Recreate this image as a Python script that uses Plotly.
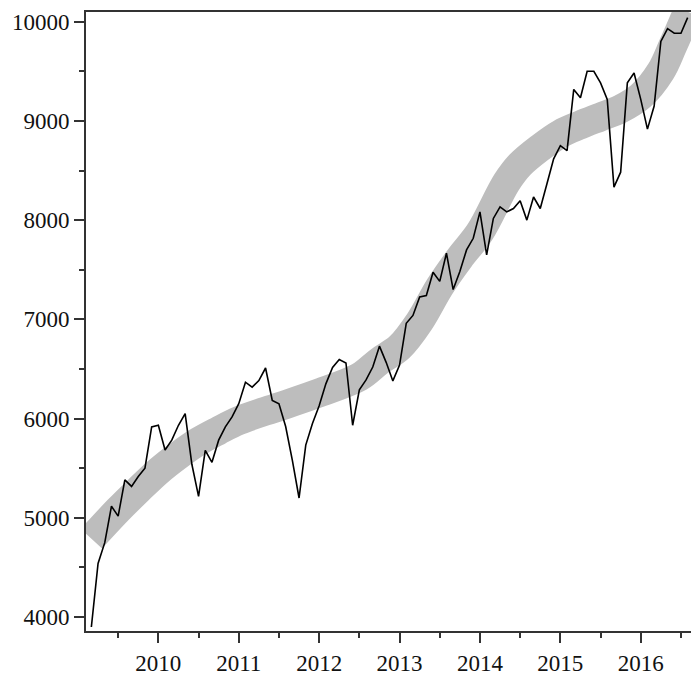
import plotly.graph_objects as go

# Monthly observations, March 2009 .. August 2016
start_year = 2009
start_month = 3
values = [
    3900, 4540, 4750, 5117, 5017, 5383, 5317, 5417, 5500, 5917,
    5933, 5683, 5783, 5933, 6050, 5540, 5217, 5680, 5560, 5783,
    5917, 6017, 6150, 6367, 6317, 6383, 6510, 6183, 6150, 5920,
    5580, 5200, 5733, 5950, 6130, 6350, 6515, 6595, 6560, 5933,
    6290, 6390, 6520, 6730, 6567, 6380, 6540, 6960, 7040, 7225,
    7240, 7475, 7383, 7667, 7300, 7483, 7700, 7817, 8083, 7650,
    8017, 8133, 8083, 8117, 8195, 8000, 8233, 8117, 8367, 8617,
    8750, 8700, 9317, 9233, 9500, 9500, 9383, 9217, 8333, 8483,
    9383, 9483, 9217, 8917, 9150, 9800, 9930, 9883, 9883, 10040,
]
months = [start_year + (start_month - 1 + k) / 12 for k in range(len(values))]

# Smooth trend
trend_x = [2009.1667, 2009.5, 2009.75, 2010.0, 2010.25, 2010.5, 2010.75, 2011.0,
           2011.5, 2012.0, 2012.5, 2012.75, 2013.0, 2013.25, 2013.5, 2013.75,
           2014.0, 2014.33, 2014.5, 2014.75, 2015.0, 2015.25, 2015.5, 2015.75,
           2016.0, 2016.25, 2016.4, 2016.583]
trend_y = [4790, 5080, 5280, 5470, 5630, 5770, 5880, 5980,
           6120, 6260, 6420, 6580, 6720, 6980, 7330, 7620,
           7880, 8380, 8560, 8730, 8870, 8960, 9040, 9120,
           9250, 9500, 9760, 10100]

y_ticks = [4000, 5000, 6000, 7000, 8000, 9000, 10000]
x_ticks = [2010, 2011, 2012, 2013, 2014, 2015, 2016]

fig = go.Figure()
fig.add_trace(go.Scatter(x=trend_x, y=trend_y, mode="lines",
                         line=dict(color="#bdbdbd", width=29, shape="spline", smoothing=1.0),
                         hoverinfo="skip"))
fig.add_trace(go.Scatter(x=months, y=values, mode="lines",
                         line=dict(color="black", width=1.6)))

font = dict(family="Liberation Serif, Times New Roman, serif", size=23, color="#111")
fig.update_layout(
    width=691, height=676,
    margin=dict(l=86, r=0, t=12, b=40),
    paper_bgcolor="white", plot_bgcolor="white",
    showlegend=False,
    font=font,
    xaxis=dict(range=[2009.1, 2016.625], tickvals=x_ticks, ticktext=[str(v) for v in x_ticks],
               showgrid=False, zeroline=False, showline=True, linecolor="#333", linewidth=2,
               mirror=True, ticks="outside", ticklen=10, tickwidth=2, tickcolor="#333",
               minor=dict(tickvals=[2009.5, 2010.5, 2011.5, 2012.5, 2013.5, 2014.5, 2015.5, 2016.5],
                          ticks="outside", ticklen=5, tickwidth=2, tickcolor="#333"),
               tickfont=font),
    yaxis=dict(range=[3860, 10097], tickvals=y_ticks, ticktext=[str(v) for v in y_ticks],
               showgrid=False, zeroline=False, showline=True, linecolor="#333", linewidth=2,
               ticks="outside", ticklen=10, tickwidth=2, tickcolor="#333",
               minor=dict(tickvals=[4500, 5500, 6500, 7500, 8500, 9500],
                          ticks="outside", ticklen=5, tickwidth=2, tickcolor="#333"),
               tickfont=font),
)
fig.write_html("out.html", config={"displayModeBar": False},
               post_script="document.body.style.margin='0';")
